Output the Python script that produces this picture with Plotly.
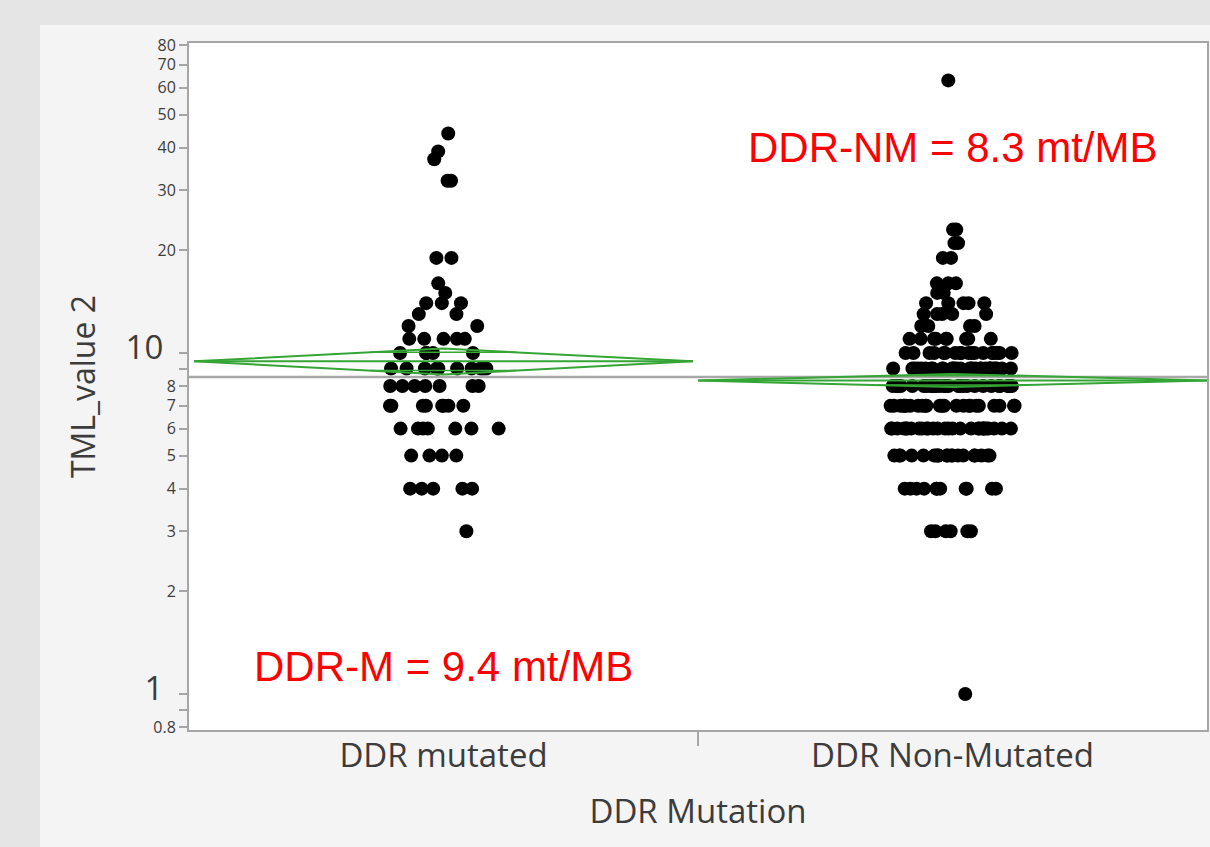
import numpy as np
import plotly.graph_objects as go

# ---------------- data ----------------
categories = ["DDR mutated", "DDR Non-Mutated"]

# TML values (value level, number of dots at that level)
mut_levels = [44, 39, 37, 32, 19, 16, 15, 14, 13, 12, 11, 10, 9, 8, 7, 6, 5, 4, 3]
mut_counts = [1, 1, 1, 2, 2, 1, 1, 3, 2, 2, 5, 5, 10, 7, 8, 7, 4, 5, 1]

nm_levels = [63, 23, 21, 19, 16, 15, 14, 13, 12, 11, 10, 9, 8, 7, 6, 5, 4, 3, 1]
nm_counts = [1, 2, 2, 2, 3, 2, 5, 5, 4, 9, 18, 30, 28, 24, 28, 20, 11, 6, 1]

# means diamonds (group mean and confidence limits) and grand mean
group_mean = [9.45, 8.3]
ci_low = [8.65, 7.95]
ci_high = [10.3, 8.68]
grand_mean = 8.5

annot_text = ["DDR-M = 9.4 mt/MB", "DDR-NM = 8.3 mt/MB"]

ytick_vals = [0.8, 0.9, 1, 2, 3, 4, 5, 6, 7, 8, 9, 10, 20, 30, 40, 50, 60, 70, 80]
ytick_lbls = ["0.8", "", "1", "2", "3", "4", "5", "6", "7", "8", "", "10",
              "20", "30", "40", "50", "60", "70", "80"]
big_labels = {"1", "10"}

# ---------------- styles ----------------
GREEN = "#35a535"
GREY = "#a8a8a8"
AXIS = "#a6a6a6"
TXT = "#3c3c3c"
FONT = "Open Sans"
jitter = [0.5, 0.5]
half_width = [0.49, 0.5]

groups = [np.repeat(mut_levels, mut_counts), np.repeat(nm_levels, nm_counts)]

fig = go.Figure()

# grand mean line
fig.add_trace(go.Scatter(x=[-0.5, 1.5], y=[grand_mean, grand_mean], mode="lines",
                         line=dict(color=GREY, width=2.5), hoverinfo="skip",
                         showlegend=False))

# means diamonds
for i in range(2):
    m, lo, hi, w = group_mean[i], ci_low[i], ci_high[i], half_width[i]
    fig.add_trace(go.Scatter(x=[i - w, i, i + w, i, i - w], y=[m, hi, m, lo, m],
                             mode="lines", line=dict(color=GREEN, width=2),
                             hoverinfo="skip", showlegend=False))
    fig.add_trace(go.Scatter(x=[i - w, i + w], y=[m, m], mode="lines",
                             line=dict(color=GREEN, width=2), hoverinfo="skip",
                             showlegend=False))
    # overlap marks
    lm = np.log10(m)
    frac = 1 - 1 / np.sqrt(2)
    for lim in (hi, lo):
        lv = lm + (np.log10(lim) - lm) / np.sqrt(2)
        fig.add_trace(go.Scatter(x=[i - w * frac, i + w * frac], y=[10 ** lv, 10 ** lv],
                                 mode="lines", line=dict(color=GREEN, width=1.5),
                                 hoverinfo="skip", showlegend=False))

# jittered points
for i, vals in enumerate(groups):
    fig.add_trace(go.Box(y=vals, x0=i, name=categories[i], boxpoints="all",
                         jitter=jitter[i], pointpos=0,
                         fillcolor="rgba(0,0,0,0)",
                         line=dict(width=0, color="rgba(0,0,0,0)"),
                         marker=dict(color="black", size=14, line=dict(width=0)),
                         hoveron="points", showlegend=False))


def tick_text(t):
    if t in big_labels:
        return '<span style="font-size:33px">%s</span>\u00a0\u00a0\u00a0' % t
    return t


fig.update_layout(
    width=1210, height=847,
    margin=dict(l=189, r=3, t=43, b=117, autoexpand=False),
    paper_bgcolor="#f4f4f4", plot_bgcolor="white",
    showlegend=False, boxmode="overlay",
    font=dict(family=FONT, color=TXT),
    shapes=[
        dict(type="rect", xref="paper", yref="paper", x0=-0.2, x1=1.01,
             y0=(730 - 25) / 687, y1=1.1, fillcolor="#e5e5e5", line=dict(width=0),
             layer="below"),
        dict(type="rect", xref="paper", yref="paper", x0=-0.2, x1=(40 - 189) / 1018,
             y0=-0.2, y1=1.1, fillcolor="#e5e5e5", line=dict(width=0), layer="below"),
    ],
    xaxis=dict(type="linear", range=[-0.5, 1.5], tickmode="array", tickvals=[0, 1],
               ticktext=categories, ticks="", showgrid=False, zeroline=False,
               showline=True, linecolor=AXIS, linewidth=2, mirror=True,
               automargin=False, ticklabelstandoff=-5,
               tickfont=dict(family=FONT, size=33, color=TXT),
               title=dict(text="DDR Mutation", font=dict(family=FONT, size=33, color=TXT),
                          standoff=24),
               minor=dict(tickmode="array", tickvals=[0.5], ticks="outside", ticklen=14,
                          tickcolor=AXIS, tickwidth=2, showgrid=False)),
    yaxis=dict(type="log", range=[-0.1057, 1.909], tickmode="array",
               tickvals=ytick_vals, ticktext=[tick_text(t) for t in ytick_lbls],
               ticks="outside", ticklen=8, tickcolor=AXIS, tickwidth=2,
               showgrid=False, zeroline=False, showline=True, linecolor=AXIS,
               linewidth=2, mirror=True, automargin=False,
               tickfont=dict(family=FONT, size=16, color=TXT),
               title=dict(text="TML_value 2", font=dict(family=FONT, size=32, color=TXT),
                          standoff=20)),
    annotations=[
        dict(x=0, y=np.log10(1.2), xref="x", yref="y", text=annot_text[0],
             showarrow=False, font=dict(family="Liberation Sans", size=42, color="#ff0000")),
        dict(x=1, y=np.log10(40), xref="x", yref="y", text=annot_text[1],
             showarrow=False, font=dict(family="Liberation Sans", size=42, color="#ff0000")),
    ],
)

fig.write_html("out.html", config={"displayModeBar": False},
               post_script="document.body.style.margin='0';")
